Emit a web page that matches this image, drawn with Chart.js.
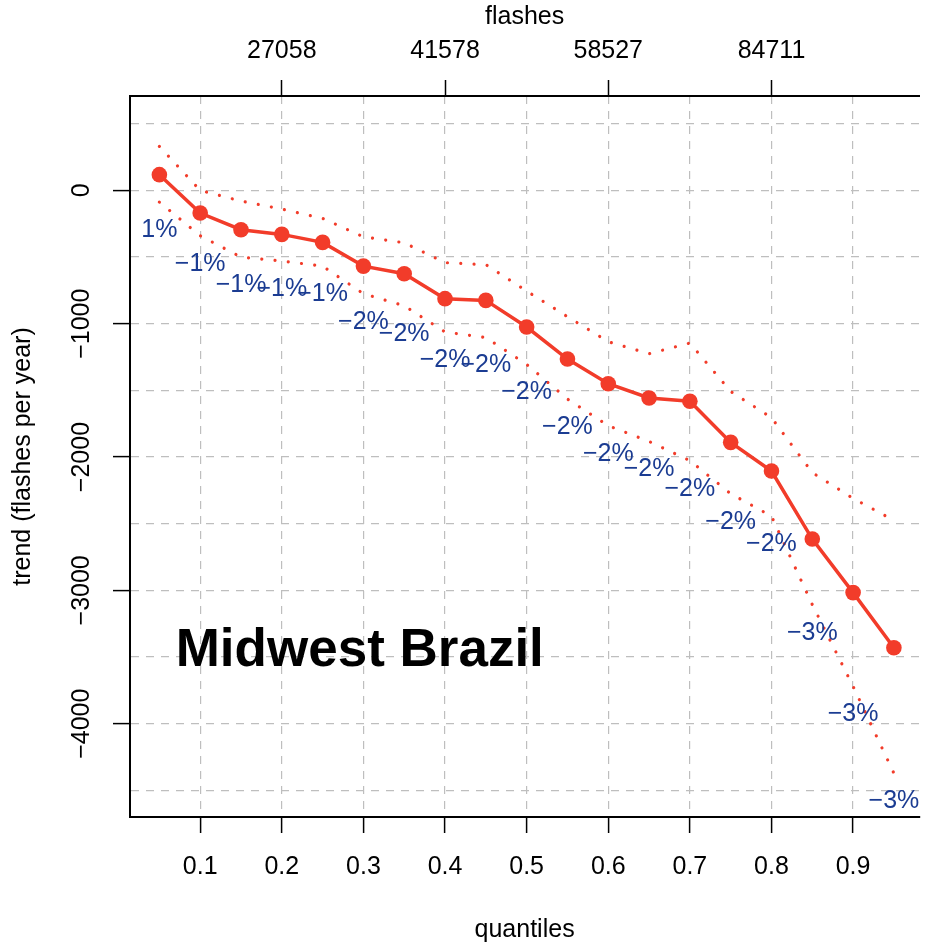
<!DOCTYPE html>
<html>
<head>
<meta charset="utf-8">
<script src="https://cdn.jsdelivr.net/npm/chart.js@4.4.1/dist/chart.umd.min.js"></script>
<style>
  body { margin: 0; background: #fff; }
  #contenedor { width: 927px; height: 947px; }
</style>
</head>
<body>
<div id="contenedor"><canvas id="grafico" width="927" height="947"></canvas></div>
<script>
// Datos: tendencia por cuantil con su banda de confianza
const cuantiles = [0.05, 0.10, 0.15, 0.20, 0.25, 0.30, 0.35, 0.40, 0.45, 0.50,
  0.55, 0.60, 0.65, 0.70, 0.75, 0.80, 0.85, 0.90, 0.95];
const tendencia = [118, -170, -295, -330, -390, -568, -625, -812, -825, -1025,
  -1265, -1450, -1557, -1582, -1890, -2105, -2615, -3017, -3430];
const limiteSup = [330, 0, -80, -140, -210, -348, -393, -542, -557, -755,
  -947, -1135, -1225, -1145, -1508, -1705, -2117, -2310, -2475];
const limiteInf = [-88, -340, -500, -530, -568, -775, -865, -1062, -1104, -1305,
  -1565, -1765, -1883, -2027, -2275, -2443, -3107, -3720, -4372];
const etiquetasPct = ['1%', '\u22121%', '\u22121%', '\u22121%', '\u22121%',
  '\u22122%', '\u22122%', '\u22122%', '\u22122%', '\u22122%', '\u22122%',
  '\u22122%', '\u22122%', '\u22122%', '\u22122%', '\u22122%',
  '\u22123%', '\u22123%', '\u22123%'];

// Ejes
const ticksX = [0.1, 0.2, 0.3, 0.4, 0.5, 0.6, 0.7, 0.8, 0.9];
const etiquetasX = ['0.1', '0.2', '0.3', '0.4', '0.5', '0.6', '0.7', '0.8', '0.9'];
const ticksFlashes = [0.2, 0.4, 0.6, 0.8];
const etiquetasFlashes = ['27058', '41578', '58527', '84711'];
const ticksY = [500, 0, -500, -1000, -1500, -2000, -2500, -3000, -3500, -4000, -4500];

const region = { texto: 'Midwest Brazil', x: 0.07, y: -3460 };

const FUENTE = 'Liberation Sans, Arial, Helvetica, sans-serif';
const ROJO = '#f23c2a';
const AZUL = '#1b3c92';
const GRIS = '#bebebe';

Chart.defaults.font.family = FUENTE;
Chart.defaults.font.size = 25;
Chart.defaults.color = '#000';

function puntos(valores) {
  return cuantiles.map((q, i) => ({ x: q, y: valores[i] }));
}

function textoY(v) {
  return v === 0 ? '0' : '\u2212' + Math.abs(v);
}

// Textos dibujados sobre el área del gráfico
const textosExtra = {
  id: 'textosExtra',
  afterDatasetsDraw(chart) {
    const { ctx, scales: { x, y } } = chart;
    ctx.save();
    ctx.font = `25px ${FUENTE}`;
    ctx.fillStyle = AZUL;
    ctx.textAlign = 'center';
    ctx.textBaseline = 'middle';
    cuantiles.forEach((q, i) => {
      ctx.fillText(etiquetasPct[i], x.getPixelForValue(q), y.getPixelForValue(limiteInf[i]) + 28);
    });

    ctx.font = `bold 53px ${FUENTE}`;
    ctx.fillStyle = '#000';
    ctx.textAlign = 'left';
    ctx.fillText(region.texto, x.getPixelForValue(region.x), y.getPixelForValue(region.y));
    ctx.restore();
  },
  afterDraw(chart) {
    // etiquetas del eje y, giradas como en R
    const { ctx, scales: { y } } = chart;
    ctx.save();
    ctx.font = `25px ${FUENTE}`;
    ctx.fillStyle = '#000';
    ctx.textAlign = 'center';
    ctx.textBaseline = 'middle';
    y.ticks.forEach(t => {
      if (t.value % 1000 !== 0) return;
      ctx.save();
      ctx.translate(y.right - 48, y.getPixelForValue(t.value));
      ctx.rotate(-Math.PI / 2);
      ctx.fillText(textoY(t.value), 0, 0);
      ctx.restore();
    });
    ctx.restore();
  }
};

new Chart(document.getElementById('grafico'), {
  type: 'line',
  data: {
    datasets: [
      {
        data: puntos(limiteSup),
        borderColor: ROJO,
        borderWidth: 3.2,
        borderDash: [0.01, 13.3],
        borderCapStyle: 'round',
        pointRadius: 0,
        tension: 0
      },
      {
        data: puntos(limiteInf),
        borderColor: ROJO,
        borderWidth: 3.2,
        borderDash: [0.01, 13.3],
        borderCapStyle: 'round',
        pointRadius: 0,
        tension: 0
      },
      {
        data: puntos(tendencia),
        borderColor: ROJO,
        backgroundColor: ROJO,
        borderWidth: 3.5,
        pointRadius: 7.8,
        pointBorderWidth: 0,
        pointBackgroundColor: ROJO,
        tension: 0
      }
    ]
  },
  options: {
    responsive: false,
    animation: false,
    layout: { padding: 0 },
    plugins: {
      legend: { display: false },
      tooltip: { enabled: false }
    },
    scales: {
      x: {
        type: 'linear',
        position: 'bottom',
        min: 0.014,
        max: 0.981,
        afterBuildTicks: s => { s.ticks = ticksX.map(v => ({ value: v })); },
        afterFit: s => { s.height = 130; },
        ticks: {
          autoSkip: false,
          maxRotation: 0,
          padding: 19,
          callback: (v, i) => etiquetasX[i]
        },
        grid: { color: GRIS, lineWidth: 1.2, tickLength: 16, tickColor: '#000', tickWidth: 1.5 },
        border: { color: '#000', width: 2, dash: [8, 7] },
        title: { display: true, text: 'quantiles', padding: { top: 0, bottom: 2 } }
      },
      x2: {
        type: 'linear',
        position: 'top',
        min: 0.014,
        max: 0.981,
        afterBuildTicks: s => { s.ticks = ticksFlashes.map(v => ({ value: v })); },
        afterFit: s => { s.height = 96; },
        ticks: {
          autoSkip: false,
          maxRotation: 0,
          padding: 14,
          callback: (v, i) => etiquetasFlashes[i]
        },
        grid: { drawOnChartArea: false, tickLength: 16, tickColor: '#000', tickWidth: 1.5 },
        border: { color: '#000', width: 2 },
        title: { display: true, text: 'flashes', padding: { top: 2, bottom: 0 } }
      },
      y: {
        type: 'linear',
        position: 'left',
        min: -4700,
        max: 708,
        afterBuildTicks: s => { s.ticks = ticksY.map(v => ({ value: v })); },
        afterFit: s => { s.width = 130; },
        ticks: { display: false },
        grid: {
          color: GRIS,
          lineWidth: 1.2,
          tickLength: 17,
          tickWidth: 1.5,
          tickColor: c => (c.tick && c.tick.value % 1000 === 0) ? '#000' : 'rgba(0,0,0,0)'
        },
        border: { color: '#000', width: 2, dash: [8, 7] },
        title: { display: true, text: 'trend (flashes per year)', padding: { top: 8, bottom: 0 } }
      }
    }
  },
  plugins: [textosExtra]
});
</script>
</body>
</html>
